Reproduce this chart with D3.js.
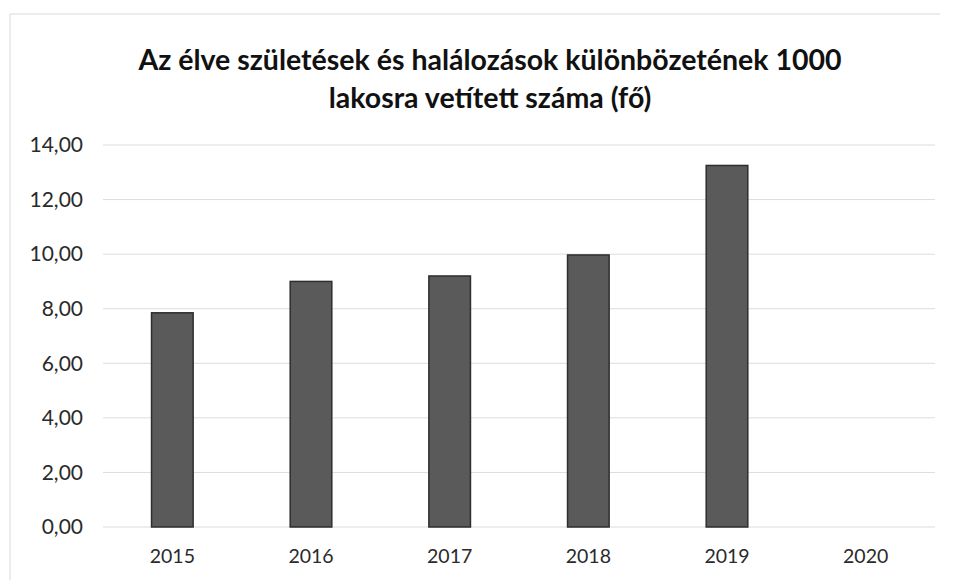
<!DOCTYPE html>
<html>
<head>
<meta charset="utf-8">
<script src="https://cdn.jsdelivr.net/npm/d3@7"></script>
<style>
  body { margin: 0; background: #fff; }
  svg { display: block; }
</style>
</head>
<body>
<svg id="chart" width="954" height="580"></svg>
<script>
// adatok
var years = ["2015", "2016", "2017", "2018", "2019", "2020"];
var values = [7.85, 9.0, 9.2, 9.97, 13.25, null];
var yTicks = [0, 2, 4, 6, 8, 10, 12, 14];
var titleLines = ["Az élve születések és halálozások különbözetének 1000", "lakosra vetített száma (fő)"];

var svg = d3.select("#chart");
var margin = { top: 145, right: 19, bottom: 53, left: 103 };
var width = 954 - margin.left - margin.right;
var height = 580 - margin.top - margin.bottom;

// halvány keret (szkennelt diagram széle)
svg.append("line")
    .attr("x1", 10).attr("x2", 10).attr("y1", 14).attr("y2", 580)
    .attr("stroke", "#e6e6e6").attr("stroke-width", 1.5);
svg.append("line")
    .attr("x1", 10).attr("x2", 940).attr("y1", 14).attr("y2", 14)
    .attr("stroke", "#e6e6e6").attr("stroke-width", 1.5);

var title = svg.append("text")
    .attr("x", 490)
    .attr("y", 70)
    .attr("text-anchor", "middle")
    .attr("font-family", "Lato, 'Open Sans', sans-serif")
    .attr("font-weight", "bold")
    .attr("font-size", "28.5px")
    .attr("fill", "#111");
title.selectAll("tspan")
    .data(titleLines)
    .enter().append("tspan")
    .attr("x", 490)
    .attr("dy", function (d, i) { return i === 0 ? 0 : 38; })
    .text(function (d) { return d; });

var g = svg.append("g").attr("transform", "translate(" + margin.left + "," + margin.top + ")");

var x = d3.scaleBand().domain(years).range([0, width]).paddingInner(0.7).paddingOuter(0.35);
var y = d3.scaleLinear().domain([0, 14]).range([height, 0]);

// rácsvonalak
g.append("g")
    .selectAll("line")
    .data(yTicks)
    .enter().append("line")
    .attr("x1", 0).attr("x2", width)
    .attr("y1", function (d) { return y(d); })
    .attr("y2", function (d) { return y(d); })
    .attr("stroke", "#dcdcdc")
    .attr("stroke-width", 1);

var yAxis = g.append("g")
    .call(d3.axisLeft(y).tickValues(yTicks).tickSize(0).tickPadding(20)
        .tickFormat(function (d) { return d3.format(".2f")(d).replace(".", ","); }));
yAxis.select(".domain").remove();
yAxis.selectAll("text")
    .attr("font-family", "Lato, 'Open Sans', sans-serif")
    .attr("font-size", "21px")
    .attr("fill", "#2a2a2a");

var xAxis = g.append("g")
    .attr("transform", "translate(0," + height + ")")
    .call(d3.axisBottom(x).tickSize(0).tickPadding(22));
xAxis.select(".domain").remove();
xAxis.selectAll("text")
    .attr("font-family", "Lato, 'Open Sans', sans-serif")
    .attr("font-size", "19.5px")
    .attr("fill", "#2a2a2a");

// oszlopok
g.selectAll(".bar")
    .data(years.map(function (d, i) { return { year: d, value: values[i] }; })
        .filter(function (d) { return d.value !== null; }))
    .enter().append("rect")
    .attr("class", "bar")
    .attr("x", function (d) { return x(d.year); })
    .attr("y", function (d) { return y(d.value); })
    .attr("width", x.bandwidth())
    .attr("height", function (d) { return height - y(d.value); })
    .attr("fill", "#5a5a5a")
    .attr("stroke", "#2e2e2e")
    .attr("stroke-width", 1.5);
</script>
</body>
</html>
